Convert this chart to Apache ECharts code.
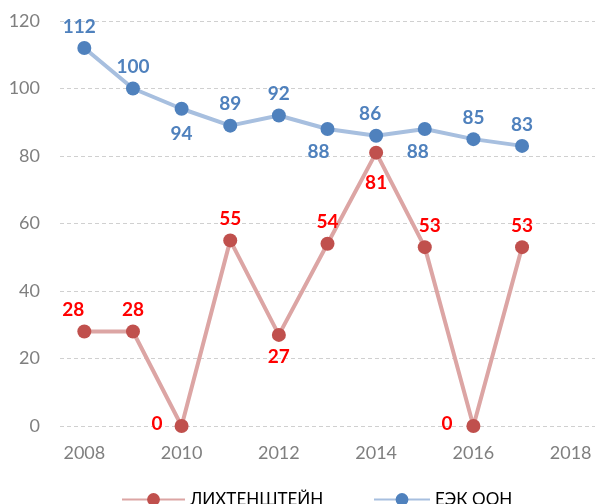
<!DOCTYPE html>
<html><head><meta charset="utf-8">
<script src="https://cdn.jsdelivr.net/npm/echarts@6/dist/echarts.min.js"></script>
<style>html,body{margin:0;padding:0;background:#fff}#c{width:595px;height:504px}</style>
</head><body><div id="c"></div>
<script>
var years = ['2008','2009','2010','2011','2012','2013','2014','2015','2016','2017','2018'];
var liechtenstein = [28, 28, 0, 55, 27, 54, 81, 53, 0, 53];
var unece = [112, 100, 94, 89, 92, 88, 86, 88, 85, 83];
var nameRed = 'ЛИХТЕНШТЕЙН';
var nameBlue = 'ЕЭК ООН';

var redLabelCfg = {
  0: {position: 'top', offset: [-11, 0]},
  2: {position: 'left', distance: 12, offset: [0, -2]},
  4: {position: 'bottom'},
  6: {position: 'bottom', distance: 14},
  7: {position: 'top', offset: [5, 0]},
  8: {position: 'left', distance: 14, offset: [0, -2]}
};
var blueLabelCfg = {
  0: {offset: [-5, 0]},
  2: {position: 'bottom', distance: 9},
  5: {position: 'bottom', distance: 6, offset: [-9, 0]},
  6: {offset: [-6, 0]},
  7: {position: 'bottom', distance: 6, offset: [-7, 0]}
};
function build(vals, cfg) {
  return vals.map(function (v, i) {
    var o = {value: v};
    if (cfg[i]) o.label = cfg[i];
    return o;
  });
}
var font = 'Lato, "Open Sans", sans-serif';
var chart = echarts.init(document.getElementById('c'));
chart.setOption({
  animation: false,
  textStyle: {fontFamily: font},
  grid: {left: 60, top: 21, width: 537, height: 405},
  legend: [{
    data: [nameRed], left: 116, top: 486, itemWidth: 63, itemHeight: 16, itemGap: 4,
    textStyle: {fontSize: 17, color: '#000', fontFamily: font}
  }, {
    data: [nameBlue], left: 368, top: 486, itemWidth: 56, itemHeight: 16,
    textStyle: {fontSize: 17, color: '#000', fontFamily: font}
  }],
  xAxis: {
    type: 'category', data: years, boundaryGap: true,
    axisLine: {show: false}, axisTick: {show: false},
    axisLabel: {interval: 1, color: '#7f7f7f', fontSize: 18, margin: 18, fontFamily: font},
    splitLine: {show: false}
  },
  yAxis: {
    type: 'value', min: 0, max: 120, interval: 20,
    axisLine: {show: false}, axisTick: {show: false},
    axisLabel: {color: '#7f7f7f', fontSize: 18, margin: 20, fontFamily: font},
    splitLine: {lineStyle: {color: '#d0d0d0', type: [4, 3], width: 1}}
  },
  series: [{
    name: nameRed, type: 'line', data: build(liechtenstein, redLabelCfg),
    symbol: 'circle', symbolSize: 14,
    itemStyle: {color: '#c0504d'},
    lineStyle: {color: '#dca5a4', width: 4},
    label: {show: true, position: 'top', distance: 5, color: '#ff0000', fontWeight: 'bold', fontSize: 19, fontFamily: font},
    z: 3
  }, {
    name: nameBlue, type: 'line', data: build(unece, blueLabelCfg),
    symbol: 'circle', symbolSize: 14,
    itemStyle: {color: '#4f81bd'},
    lineStyle: {color: '#a7bfdf', width: 4},
    label: {show: true, position: 'top', distance: 5, color: '#4f81bd', fontWeight: 'bold', fontSize: 19, fontFamily: font},
    z: 2
  }]
});
</script></body></html>
